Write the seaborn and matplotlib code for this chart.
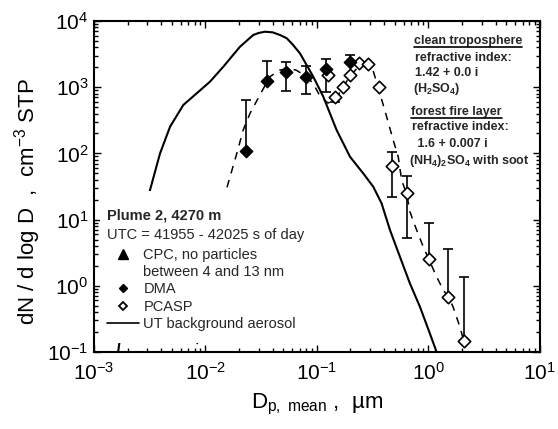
import matplotlib
matplotlib.use("Agg")
import matplotlib.pyplot as plt
import seaborn as sns
import numpy as np
from matplotlib.lines import Line2D
from matplotlib.patches import Rectangle

# DMA (filled diamonds) with error bar ends
dma_d = [0.0231, 0.0354, 0.0527, 0.0796, 0.1205, 0.198]
dma_n = [108, 1253, 1679, 1442, 1904, 2427]
dma_lo = [108, 1253, 885, 789, 855, 2427]
dma_hi = [646, 2510, 2427, 2089, 2636, 3063]

# PCASP (open diamonds)
pcasp_d = [0.126, 0.145, 0.170, 0.198, 0.239, 0.288, 0.362, 0.471, 0.637, 1.01, 1.51, 2.10]
pcasp_n = [1528, 719, 1018, 1528, 2297, 2241, 1018, 65.2, 25.5, 2.51, 0.684, 0.148]
pcasp_lo = [1528, 604, 1018, 1528, 2297, 2241, 1018, 22.2, 5.2, 2.51, 0.684, 0.148]
pcasp_hi = [1528, 719, 1018, 1528, 2297, 2241, 1018, 106, 45.6, 8.8, 3.56, 1.37]

# fitted size distribution (dashed)
fit_d = [0.0080, 0.0110, 0.0155, 0.0191, 0.0218, 0.0251, 0.0319, 0.0380, 0.0466, 0.0560,
         0.0648, 0.0796, 0.0920, 0.1064, 0.1255, 0.145, 0.170, 0.198, 0.239, 0.275,
         0.318, 0.367, 0.422, 0.483, 0.536, 0.575, 0.642, 0.682, 0.784, 0.898,
         1.01, 1.185, 1.358, 1.51, 1.667, 1.918, 2.125]
fit_n = [0.08, 1.73, 29.7, 100, 226, 403, 855, 1450, 1818, 1900,
         1818, 1476, 1157, 737, 577, 641, 973, 1476, 2089, 2239,
         1818, 809, 358, 159, 89, 39.6, 23.5, 13.2, 6.97, 3.9,
         2.5, 1.37, 0.865, 0.677, 0.478, 0.239, 0.128]

# UT background aerosol (solid)
ut_d = [0.00161, 0.0019, 0.00233, 0.00318, 0.00391, 0.00481, 0.00632, 0.00834, 0.01097,
        0.01445, 0.0204, 0.0268, 0.0300, 0.0342, 0.0400, 0.0466, 0.0535, 0.0600, 0.0704,
        0.0927, 0.114, 0.150, 0.198, 0.260, 0.320, 0.380, 0.452, 0.555, 0.682,
        0.839, 1.03, 1.167, 1.2]
ut_n = [0.076, 0.6, 3.5, 28, 100, 253, 538, 809, 1211,
        2040, 4090, 6150, 6600, 6892, 6750, 6150, 5500, 4500, 3250,
        1442, 719, 226, 89, 50, 31.4, 17.6, 6.97, 2.75, 1.09,
        0.483, 0.191, 0.107, 0.09]

sns.set_theme(style="ticks")
plt.rcParams["font.family"] = ["Liberation Sans", "DejaVu Sans"]
plt.rcParams["mathtext.fontset"] = "custom"
plt.rcParams["mathtext.rm"] = "Liberation Sans"
plt.rcParams["mathtext.it"] = "Liberation Sans:italic"
plt.rcParams["mathtext.bf"] = "Liberation Sans:bold"

fig = plt.figure(figsize=(5.58, 4.29), dpi=100)
ax = fig.add_axes([0.1685, 0.1795, 0.799, 0.7715])

sns.lineplot(x=ut_d, y=ut_n, ax=ax, color="black", lw=1.5, sort=False,
             estimator=None, zorder=1.8)
sns.lineplot(x=fit_d, y=fit_n, ax=ax, color="black", lw=1.1, sort=False,
             estimator=None, linestyle=(0, (5, 4.5)), zorder=1.9)

dma_err = [np.array(dma_n) - np.array(dma_lo), np.array(dma_hi) - np.array(dma_n)]
pc_err = [np.array(pcasp_n) - np.array(pcasp_lo), np.array(pcasp_hi) - np.array(pcasp_n)]
ax.errorbar(dma_d, dma_n, yerr=dma_err, fmt="none", ecolor="black",
            elinewidth=1.2, capsize=3.5, capthick=1.2, zorder=3)
ax.errorbar(pcasp_d, pcasp_n, yerr=pc_err, fmt="none", ecolor="black",
            elinewidth=1.2, capsize=3.5, capthick=1.2, zorder=3)

sns.scatterplot(x=pcasp_d, y=pcasp_n, ax=ax, marker="D", s=40, color="white",
                edgecolor="black", linewidth=1.2, zorder=4)
sns.scatterplot(x=dma_d, y=dma_n, ax=ax, marker="D", s=40, color="black",
                edgecolor="black", linewidth=1, zorder=4.5)

ax.set_xscale("log")
ax.set_yscale("log")
ax.set_xlim(1e-3, 1e1)
ax.set_ylim(1e-1, 1e4)

for s in ax.spines.values():
    s.set_linewidth(1.5)
    s.set_color("black")
ax.tick_params(which="both", direction="in", top=True, right=True, width=1,
               color="black", labelcolor="black")
ax.tick_params(which="major", length=5, labelsize=15)
ax.tick_params(which="minor", length=3)
ax.tick_params(axis="x", which="major", pad=7)
ax.tick_params(axis="y", which="major", pad=4)

ax.set_ylabel(r"dN / d log D  ,  cm$^{-3}$ STP", fontsize=16, color="black")
ax.yaxis.set_label_coords(-0.115, 0.456)
ax.set_xlabel(r"D$_\mathregular{p,\ mean}$ ,  µm", fontsize=16, color="black")
ax.xaxis.set_label_coords(0.5, -0.12)

# white box behind the legend text
ax.add_patch(Rectangle((0.013, 0.027), 0.449, 0.46, transform=ax.transAxes,
                       facecolor="white", edgecolor="none", zorder=2.2))
ax.text(0.029, 0.411, "Plume 2, 4270 m", transform=ax.transAxes, fontsize=10.5,
        fontweight="bold", va="center", ha="left", zorder=6)
ax.text(0.029, 0.352, "UTC = 41955 - 42025 s of day", transform=ax.transAxes,
        fontsize=10.5, va="center", ha="left", zorder=6)

handles = [
    Line2D([], [], ls="none", marker="^", color="black", ms=6.5),
    Line2D([], [], ls="none"),
    Line2D([], [], ls="none", marker="D", color="black", ms=4.3),
    Line2D([], [], ls="none", marker="D", mfc="white", mec="black", mew=1.3, ms=4.3),
    Line2D([], [], color="black", lw=1.2),
]
labels = ["CPC, no particles", "between 4 and 13 nm", "DMA", "PCASP",
          "UT background aerosol"]
ax.legend(handles, labels, loc="upper left", bbox_to_anchor=(0.029, 0.315),
          frameon=False, borderpad=0, borderaxespad=0, handlelength=2.2,
          handletextpad=0.3, labelspacing=0.23, fontsize=10.5)

# refractive index notes
notes = [
    (0.718, 0.940, "clean troposphere", True),
    (0.720, 0.889, "refractive index:", False),
    (0.720, 0.844, "1.42 + 0.0 i", False),
    (0.716, 0.794, r"(H$_\mathbf{2}$SO$_\mathbf{4}$)", False),
    (0.711, 0.726, "forest fire layer", True),
    (0.713, 0.679, "refractive index:", False),
    (0.718, 0.628, " 1.6 + 0.007 i", False),
    (0.707, 0.578, r"(NH$_\mathbf{4}$)$_\mathbf{2}$SO$_\mathbf{4}$ with soot", False),
]
underlined = []
for x, y, txt, ul in notes:
    t = ax.text(x, y, txt, transform=ax.transAxes, fontsize=9, fontweight="bold",
                va="center", ha="left", zorder=6)
    if ul:
        underlined.append(t)

fig.canvas.draw()
renderer = fig.canvas.get_renderer()
inv = fig.transFigure.inverted()
for t in underlined:
    bb = t.get_window_extent(renderer)
    (x0, y0), (x1, _) = inv.transform([(bb.x0, bb.y0 - 0.5), (bb.x1, bb.y0)])
    fig.add_artist(Line2D([x0, x1], [y0, y0], transform=fig.transFigure,
                          color="black", lw=1.2))

fig.savefig("out.png", dpi=100)
